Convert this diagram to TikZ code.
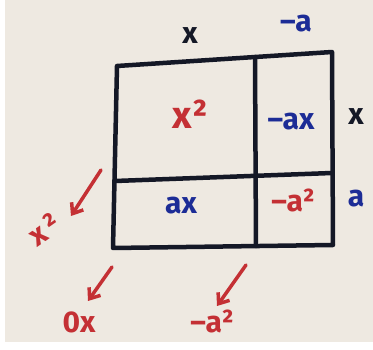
\documentclass[tikz,border=0pt]{standalone}
\usepackage{fontspec}
\setmainfont{Fira Sans}
\usepackage{tikz}
\usetikzlibrary{arrows.meta}
\definecolor{paper}{RGB}{238,233,225}
\definecolor{pen}{RGB}{20,24,38}
\definecolor{redpen}{RGB}{196,48,52}
\definecolor{bluepen}{RGB}{28,44,150}

\begin{document}
\begin{tikzpicture}[x=1pt,y=-1pt,
  every node/.style={font=\fontsize{30}{32}\selectfont\bfseries, inner sep=0pt},
  blk/.style={text=pen},
  red/.style={text=redpen},
  blu/.style={text=bluepen},
  big/.style={font=\fontsize{38}{40}\selectfont\bfseries},
  grid/.style={draw=pen, line width=4.5pt, line join=round, line cap=round},
  arr/.style={-{Straight Barb[length=9pt,width=14pt,line width=3.5pt]},
              draw=redpen, line width=3.5pt, line cap=round}
]
\useasboundingbox (0,0) rectangle (373,350);
\fill[white] (0,0) rectangle (373,350);
\fill[paper] (5,0) rectangle (373,342);

% corners of the square
\coordinate (tl) at (117,66);
\coordinate (tr) at (332,52);
\coordinate (br) at (333,245);
\coordinate (bl) at (113,248);
\coordinate (vt) at (255,57);
\coordinate (vb) at (256,246);
\coordinate (hl) at (115,181);
\coordinate (hr) at (332,173);

\draw[grid] (tl) -- (tr) -- (br) -- (bl) -- cycle;
\draw[grid] (vt) -- (vb);
\draw[grid] (hl) -- (hr);

% sides
\node[blk] (tx) at (190,36) {x};
\node[blu] (ta) at (296,24) {–a};
\node[blk] (rx) at (356,117) {x};
\node[blu] (ra) at (356,199) {a};

% cells
\node[red, big] (xx) at (190,114) {x²};
\node[blu] (nax) at (291,122) {–ax};
\node[blu] (ax) at (181,206) {ax};
\node[red] (naa) at (293,200) {–a²};

% collected terms
\node[red, rotate=35] (sq) at (44,229) {x\kern4pt²};
\node[red] (ox) at (79,322) {0x};
\node[red] (aa) at (212,321) {–a²};

\coordinate (p1) at (101,170);
\coordinate (q1) at (71,216);
\coordinate (p2) at (112,267);
\coordinate (q2) at (88,301);
\coordinate (p3) at (246,265);
\coordinate (q3) at (217,306);

\draw[arr] (p1) -- (q1);
\draw[arr] (p2) -- (q2);
\draw[arr] (p3) -- (q3);
\end{tikzpicture}
\end{document}
